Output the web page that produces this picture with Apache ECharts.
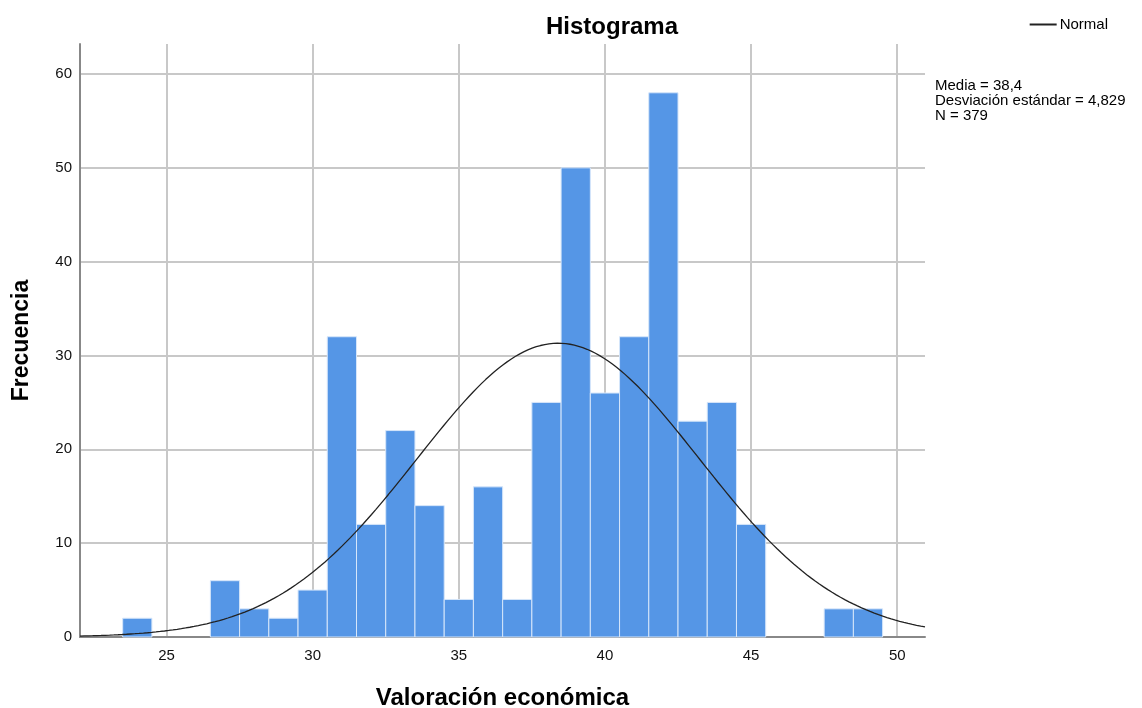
<!DOCTYPE html>
<html>
<head>
<meta charset="utf-8">
<script src="https://cdn.jsdelivr.net/npm/echarts@6/dist/echarts.min.js"></script>
<style>
html,body{margin:0;padding:0;background:#fff;}
#chart{width:1142px;height:708px;}
</style>
</head>
<body>
<div id="chart"></div>
<script>
// Bin centers (width 1) and frequencies
const binCenters = [24,25,26,27,28,29,30,31,32,33,34,35,36,37,38,39,40,41,42,43,44,45,46,47,48,49];
const frequencies = [2,0,0,6,3,2,5,32,12,22,14,4,16,4,25,50,26,32,58,23,25,12,0,0,3,3];
const xTickLabels = [25,30,35,40,45,50];
const yTickLabels = [0,10,20,30,40,50,60];
// Stats shown on the chart
const statMean = 38.4;
const statSD = 4.829;
const statN = 379;
const binWidth = 1;
const xMin = 22.04, xMax = 50.95;
const yMax = 63.2;

// Fitted normal curve from the displayed statistics
const normalCurve = [];
for (let i = 0; i <= 200; i++) {
  const x = xMin + (xMax - xMin) * i / 200;
  const z = (x - statMean) / statSD;
  normalCurve.push([x, statN * binWidth / (statSD * Math.sqrt(2 * Math.PI)) * Math.exp(-0.5 * z * z)]);
}

const histData = binCenters.map((c, i) => [c, frequencies[i]]);

const chart = echarts.init(document.getElementById('chart'));
const FONT = '"Liberation Sans", Arial, sans-serif';
chart.setOption({
  animation: false,
  textStyle: {fontFamily: FONT},
  title: {
    text: 'Histograma',
    left: 541, top: 10,
    textStyle: {fontSize: 24, fontWeight: 'bold', color: '#000', fontFamily: FONT}
  },
  legend: {
    right: 29, top: 12,
    itemWidth: 27, itemHeight: 2, itemGap: 0,
    icon: 'rect',
    data: [{name: 'Normal', icon: 'rect', itemStyle: {color: '#222'}}],
    textStyle: {fontSize: 15, color: '#000', fontFamily: FONT, padding: [0,0,0,-2]}
  },
  graphic: [{
    type: 'text', left: 935, top: 78,
    style: {
      text: 'Media = ' + String(statMean).replace('.', ',') + '\nDesviación estándar = ' + String(statSD).replace('.', ',') + '\nN = ' + statN,
      font: '15px ' + FONT, fill: '#000', lineHeight: 15
    }
  }],
  grid: {left: 80, right: 217, top: 44, bottom: 71, containLabel: false, outerBoundsMode: 'none'},
  xAxis: {
    type: 'value', min: xMin, max: xMax,
    name: 'Valoración económica', nameLocation: 'middle', nameGap: 49,
    nameTextStyle: {fontSize: 24, fontWeight: 'bold', color: '#000', fontFamily: FONT},
    axisLine: {show: true, onZero: false, lineStyle: {color: '#888', width: 2}},
    axisTick: {show: false},
    axisLabel: {
      fontSize: 15, color: '#111', margin: 11, showMinLabel: false, showMaxLabel: false,
      formatter: v => xTickLabels.includes(Math.round(v * 100) / 100) ? String(v) : ''
    },
    splitLine: {show: true, showMinLine: false, showMaxLine: false, lineStyle: {color: '#c8c8c8', width: 2}}
  },
  yAxis: {
    type: 'value', min: 0, max: yMax, interval: 10,
    name: 'Frecuencia', nameLocation: 'middle', nameGap: 47, nameRotate: 90,
    nameTextStyle: {fontSize: 23, fontWeight: 'bold', color: '#000', fontFamily: FONT},
    axisLine: {show: true, lineStyle: {color: '#888', width: 2}},
    axisTick: {show: false},
    axisLabel: {
      fontSize: 15, color: '#111', margin: 8, showMaxLabel: false, padding: [5,0,0,0],
      formatter: v => yTickLabels.includes(v) ? String(v) : ''
    },
    splitLine: {show: true, showMinLine: false, showMaxLine: false, lineStyle: {color: '#c8c8c8', width: 2}}
  },
  series: [
    {
      type: 'custom', name: 'Frecuencia',
      data: histData,
      encode: {x: 0, y: 1},
      z: 2,
      renderItem: (params, api) => {
        const c = api.value(0), f = api.value(1);
        if (!f) return null;
        const p0 = api.coord([c - binWidth / 2, f]);
        const p1 = api.coord([c + binWidth / 2, 0]);
        return {
          type: 'rect',
          shape: {x: p0[0], y: p0[1], width: p1[0] - p0[0], height: p1[1] - p0[1]},
          style: {fill: '#5596e6', stroke: '#d6e6fa', lineWidth: 1}
        };
      }
    },
    {
      type: 'line', name: 'Normal',
      data: normalCurve, showSymbol: false, smooth: false, z: 3,
      lineStyle: {color: '#222', width: 1.3},
      itemStyle: {color: '#222'}
    }
  ]
});
</script>
</body>
</html>
